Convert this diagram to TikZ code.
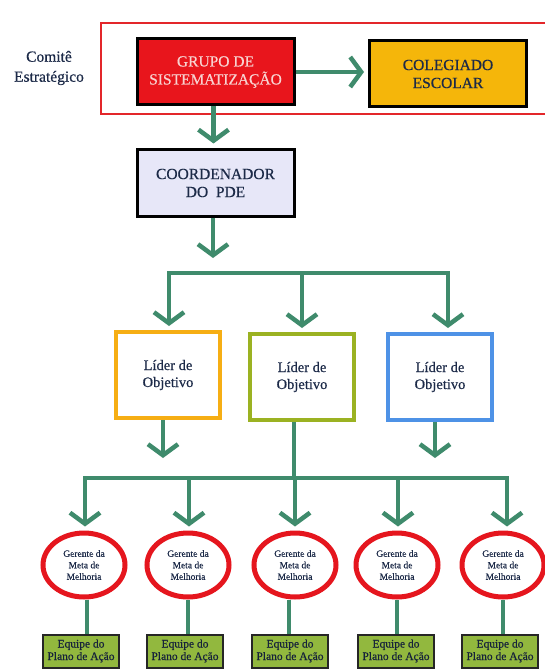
\documentclass[tikz,border=0pt]{standalone}
\usepackage{fontspec}
\setmainfont{Liberation Serif}
\newfontfamily\semi{Liberation Serif}[BoldFont=Liberation Serif, BoldFeatures={FakeBold=0.5}]
\usetikzlibrary{arrows.meta,shapes.geometric}
\definecolor{arrgreen}{HTML}{3F8B6C}
\definecolor{framered}{HTML}{E3262A}
\definecolor{grupored}{HTML}{E8151C}
\definecolor{grupotext}{HTML}{F8D2D0}
\definecolor{colyellow}{HTML}{F5B60A}
\definecolor{coordfill}{HTML}{E7E7F8}
\definecolor{navy}{HTML}{1C2A48}
\definecolor{lidA}{HTML}{F6AE14}
\definecolor{lidB}{HTML}{9BB222}
\definecolor{lidC}{HTML}{4E92E6}
\definecolor{gerred}{HTML}{E5161E}
\definecolor{eqgreen}{HTML}{92B83E}
\begin{document}
\begin{tikzpicture}[x=1pt,y=-1pt,
  darrow/.style={draw=arrgreen, line width=4.5pt, -{Straight Barb[length=11pt,width=30pt]}},
  gline/.style={draw=arrgreen, line width=4.5pt},
  gbar/.style={draw=arrgreen, line width=4.5pt, line cap=rect},
  topbox/.style={rectangle, draw=black, line width=3pt, minimum width=157pt, minimum height=66pt, align=center, font=\semi\bfseries\fontsize{15.5}{18}\selectfont},
  lider/.style={rectangle, line width=4pt, fill=white, minimum width=104pt, minimum height=86pt, align=center, text=navy, font=\semi\bfseries\fontsize{14.5}{17}\selectfont},
  gerente/.style={ellipse, draw=gerred, line width=5pt, fill=white, minimum width=82pt, minimum height=64pt, inner sep=0pt, align=center, text=navy, font=\semi\bfseries\fontsize{9.5}{11.5}\selectfont},
  equipe/.style={rectangle, draw=black!85, line width=2pt, fill=eqgreen, minimum width=76pt, minimum height=33pt, inner sep=0pt, align=center, text=navy!80!black, font=\semi\bfseries\fontsize{11.5}{12.5}\selectfont}
]
\useasboundingbox (0,0) rectangle (545,671);
\clip (0,0) rectangle (545,671);
\fill[white] (0,0) rectangle (545,671);

% comite frame
\draw[framered, line width=2.5pt] (101,23) rectangle (560,114);
\node[align=center, text=navy, font=\semi\bfseries\fontsize{15.5}{20}\selectfont] (comite) at (49,68) {Comitê\\Estratégico};

% top boxes
\node[topbox, fill=grupored, text=grupotext] (grupo) at (215.5,72) {GRUPO DE\\SISTEMATIZAÇÃO};
\node[topbox, fill=colyellow, text=navy] (coleg) at (448,74) {COLEGIADO\\ESCOLAR};
\node[topbox, fill=coordfill, text=navy] (coord) at (215.5,183) {COORDENADOR\\DO\ \ PDE};

\draw[darrow, shorten >=4pt] (grupo.east) -- (grupo.east -| coleg.west);
\draw[darrow, shorten >=5pt] ([xshift=-2pt]grupo.south) -- ([xshift=-2pt]grupo.south |- coord.north);
\coordinate (ctip) at (213,258);
\draw[darrow] (ctip |- coord.south) -- (ctip);

% first bar
\coordinate (b1a) at (169,273);
\coordinate (b1b) at (302,273);
\coordinate (b1c) at (448,273);
\draw[gbar] (b1a) -- (b1c);

% lider boxes
\node[lider, draw=lidA] (l1) at (168,375) {Líder de\\Objetivo};
\node[lider, draw=lidB] (l2) at (302,377) {Líder de\\Objetivo};
\node[lider, draw=lidC] (l3) at (440,377) {Líder de\\Objetivo};

\draw[darrow, shorten >=4pt] (b1a) -- (b1a |- l1.north);
\draw[darrow, shorten >=4pt] (b1b) -- (b1b |- l2.north);
\draw[darrow, shorten >=4pt] (b1c) -- (b1c |- l3.north);

% second bar
\coordinate (a1) at (163,458);
\coordinate (a3) at (435,458);
\coordinate (b2m) at (294,478);
\draw[darrow] (a1 |- l1.south) -- (a1);
\draw[darrow] (a3 |- l3.south) -- (a3);
\draw[gline] (b2m |- l2.south) -- (b2m);

\coordinate (d1) at (85,478);
\coordinate (d2) at (189,478);
\coordinate (d3) at (295,478);
\coordinate (d4) at (398,478);
\coordinate (d5) at (507,478);
\draw[gbar] (d1) -- (d5);

% gerentes
\node[gerente] (g1) at (84,565) {Gerente da\\Meta de\\Melhoria};
\node[gerente] (g2) at (188,565) {Gerente da\\Meta de\\Melhoria};
\node[gerente] (g3) at (295,565) {Gerente da\\Meta de\\Melhoria};
\node[gerente] (g4) at (397,565) {Gerente da\\Meta de\\Melhoria};
\node[gerente] (g5) at (503,565) {Gerente da\\Meta de\\Melhoria};

\foreach \i in {1,...,5}{
  \draw[darrow, shorten >=4pt] (d\i) -- (d\i |- g\i.north);
}

% equipes
\node[equipe] (e1) at (81,651) {Equipe do\\Plano de Ação};
\node[equipe] (e2) at (185,651) {Equipe do\\Plano de Ação};
\node[equipe] (e3) at (290,651) {Equipe do\\Plano de Ação};
\node[equipe] (e4) at (396,651) {Equipe do\\Plano de Ação};
\node[equipe] (e5) at (500,651) {Equipe do\\Plano de Ação};

\draw[gline, line width=3.5pt] ([xshift=3pt]g1.south) -- ([xshift=3pt]g1.south |- e1.north);
\draw[gline, line width=3.5pt] (g2.south) -- (g2.south |- e2.north);
\draw[gline, line width=3.5pt] ([xshift=-6pt]g3.south) -- ([xshift=-6pt]g3.south |- e3.north);
\draw[gline, line width=3.5pt] (g4.south) -- (g4.south |- e4.north);
\draw[gline, line width=3.5pt] (g5.south) -- (g5.south |- e5.north);
\end{tikzpicture}
\end{document}
